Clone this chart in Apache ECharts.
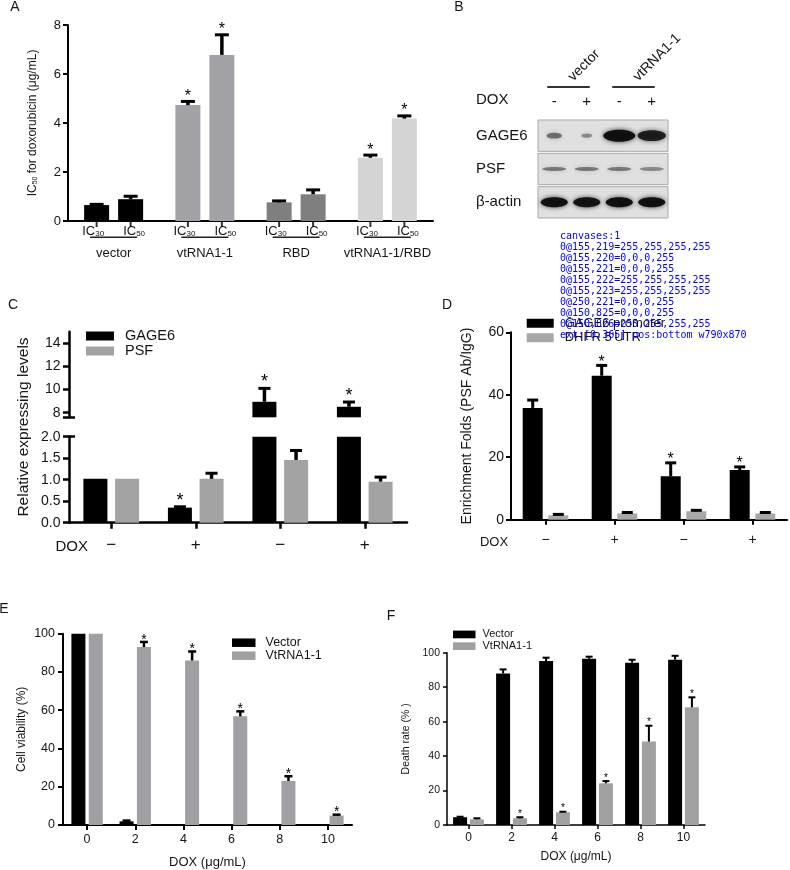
<!DOCTYPE html>
<html><head><meta charset="utf-8">
<script src="https://cdn.jsdelivr.net/npm/echarts@6/dist/echarts.min.js"></script>
<style>html,body{margin:0;padding:0;background:#fff}#c{width:790px;height:870px}#dbg{position:absolute;left:560px;top:230px;font:10px monospace;color:#00f;width:230px}</style>
</head><body><div id="c"></div><div id="dbg"></div>
<script>
const FONT = '"Liberation Sans", Arial, Helvetica, sans-serif';
const T = '#151515';

// ---------- Panel A ----------
const aGroups = ['vector', 'vtRNA1-1', 'RBD', 'vtRNA1-1/RBD'];
const aIC30 = [0.65, 4.73, 0.76, 2.58];
const aIC30Err = [0.68, 4.88, 0.82, 2.69];
const aIC30Sig = [0, 1, 0, 1];
const aIC50 = [0.89, 6.78, 1.09, 4.18];
const aIC50Err = [1.01, 7.6, 1.27, 4.29];
const aIC50Sig = [0, 1, 0, 1];
const aColors = ['#000000', '#a2a2a6', '#7f7f7f', '#d4d4d4'];

// ---------- Panel B (western blot, relative band signal) ----------
const bLanes = ['-', '+', '-', '+'];
const bGroups = ['vector', 'vtRNA1-1'];
const bRows = ['GAGE6', 'PSF', 'β-actin'];
const bGAGE6 = [0.3, 0.12, 1.0, 0.85];
const bPSF = [0.45, 0.45, 0.45, 0.38];
const bActin = [0.95, 0.93, 0.97, 0.95];

// ---------- Panel C ----------
const cCats = ['−', '+', '−', '+'];
const cGAGE6 = [1.02, 0.35, 8.94, 8.51];
const cGAGE6Err = [1.02, 0.37, 10.1, 8.92];
const cGAGE6Sig = [0, 1, 1, 1];
const cPSF = [1.02, 1.02, 1.46, 0.955];
const cPSFErr = [1.02, 1.15, 1.68, 1.06];
const cHighTicks = [8, 10, 12, 14];

// ---------- Panel D ----------
const dCats = ['−', '+', '−', '+'];
const dGAGE6 = [35.8, 46.1, 13.9, 15.9];
const dGAGE6Err = [38.3, 49.4, 18.2, 16.9];
const dGAGE6Sig = [0, 1, 1, 1];
const dDHFR = [1.4, 2.0, 2.7, 2.0];
const dDHFRErr = [1.7, 2.3, 3.0, 2.3];

// ---------- Panel E ----------
const doses = ['0', '2', '4', '6', '8', '10'];
const eVector = [100, 1.9, 0, 0, 0, 0];
const eVectorErr = [100, 2.3, 0, 0, 0, 0];
const eVt = [100, 93.0, 86.0, 56.8, 23.0, 4.9];
const eVtErr = [100, 95.7, 90.7, 59.4, 25.5, 5.4];
const eVtSig = [0, 1, 1, 1, 1, 1];

// ---------- Panel F ----------
const fVector = [4.5, 88.0, 95.2, 96.5, 94.2, 95.9];
const fVectorErr = [4.8, 90.3, 97.1, 97.7, 95.9, 98.2];
const fVt = [3.3, 3.9, 7.4, 24.2, 48.4, 68.3];
const fVtErr = [3.9, 4.5, 7.7, 25.5, 57.6, 74.1];
const fVtSig = [0, 1, 1, 1, 1, 1];

function errSeries(xi, yi, vals, errs, sigs, offset, o) {
  return {
    type: 'custom', xAxisIndex: xi, yAxisIndex: yi, silent: true, z: 5, clip: false,
    data: vals.map((v, i) => [i, v, errs[i], sigs ? sigs[i] : 0]),
    renderItem: function (params, api) {
      const i = api.value(0), v = api.value(1), e = api.value(2), s = api.value(3);
      const cs = params.coordSys;
      const p0 = api.coord([i, v]);
      const p1 = api.coord([i, e]);
      if (p1[1] < cs.y - 0.5 || p0[1] > cs.y + cs.height + 0.5) return null;
      const x = p0[0] + offset;
      const ch = [];
      if (e > v) {
        ch.push({ type: 'line', shape: { x1: x, y1: p0[1], x2: x, y2: p1[1] }, style: { stroke: '#000', lineWidth: o.lw } });
        ch.push({ type: 'line', shape: { x1: x - o.cap / 2, y1: p1[1], x2: x + o.cap / 2, y2: p1[1] }, style: { stroke: '#000', lineWidth: o.capW } });
      }
      if (s) ch.push({ type: 'text', x: x, y: p1[1] - o.starGap, style: { text: '*', fontSize: o.star, fontFamily: FONT, fill: '#000', align: 'center', verticalAlign: 'middle' } });
      return { type: 'group', children: ch };
    }
  };
}
function valAxis(grid, min, max, interval, fs, margin, lw, tl, extra) {
  return Object.assign({
    type: 'value', gridIndex: grid, min: min, max: max, interval: interval,
    axisLine: { show: true, lineStyle: { color: '#000', width: lw } },
    axisTick: { show: true, length: tl, lineStyle: { color: '#000', width: lw } },
    axisLabel: { fontSize: fs, margin: margin, color: T, fontFamily: FONT },
    splitLine: { show: false }
  }, extra || {});
}
function catAxis(grid, data, fs, margin, lw, tl, extra) {
  return Object.assign({
    type: 'category', gridIndex: grid, data: data,
    axisLine: { show: true, onZero: false, lineStyle: { color: '#000', width: lw } },
    axisTick: { show: true, alignWithLabel: true, length: tl, lineStyle: { color: '#000', width: lw } },
    axisLabel: { interval: 0, fontSize: fs, margin: margin, color: T, fontFamily: FONT },
    splitLine: { show: false }
  }, extra || {});
}

const grids = [
  { left: 68, top: 25, width: 365, height: 196 },
  { left: 69, top: 331.7, width: 338, height: 85.6 },
  { left: 69, top: 436.7, width: 338, height: 86 },
  { left: 511, top: 332.3, width: 276, height: 187.4 },
  { left: 63, top: 633.7, width: 289, height: 192.3 },
  { left: 447, top: 652.7, width: 258, height: 172.3 },
  { left: 538, top: 119, width: 130, height: 100 }
];

const xAxes = [
  catAxis(0, aGroups, 13, 1, 2, 5, {
    axisTick: { show: false },
    axisLabel: {
      interval: 0, margin: 1, color: T, fontFamily: FONT,
      formatter: v => '{ic|IC}{sub|30}{sp| }{ic|IC}{sub|50}\n{g|' + v + '}',
      rich: {
        ic: { fontSize: 13, lineHeight: 16, verticalAlign: 'bottom', fontFamily: FONT, color: T },
        sub: { fontSize: 8, lineHeight: 8, verticalAlign: 'bottom', fontFamily: FONT, color: T },
        sp: { width: 19, fontSize: 13, lineHeight: 16 },
        g: { fontSize: 13, lineHeight: 30, fontFamily: FONT, color: T }
      }
    }
  }),
  { type: 'category', gridIndex: 1, data: cCats, show: false },
  catAxis(2, cCats, 17, 14, 2.5, 6, {}),
  catAxis(3, dCats, 14, 13, 2, 5, {}),
  catAxis(4, doses, 12.5, 8, 2, 5, { name: 'DOX (μg/mL)', nameLocation: 'middle', nameGap: 31, nameTextStyle: { fontSize: 13, color: T, fontFamily: FONT } }),
  catAxis(5, doses, 12, 7, 1.5, 4, { name: 'DOX (μg/mL)', nameLocation: 'middle', nameGap: 26, nameTextStyle: { fontSize: 12, color: T, fontFamily: FONT } }),
  { type: 'category', gridIndex: 6, data: bLanes, position: 'top', axisLine: { show: false }, axisTick: { show: false },
    axisLabel: { fontSize: 15, margin: 10, color: T, fontFamily: FONT } },
  { type: 'category', gridIndex: 6, data: bGroups, position: 'top', offset: 32, axisLine: { show: false }, axisTick: { show: false },
    axisLabel: { interval: 0, fontSize: 14, margin: 8, rotate: -45, color: T, fontFamily: FONT } }
];

const yAxes = [
  valAxis(0, 0, 8, 2, 13, 7, 2, 5, {
    name: '{n|IC}{s|50}{n| for doxorubicin (μg/mL)}', nameLocation: 'middle', nameGap: 29,
    nameTextStyle: { rich: { n: { fontSize: 12, lineHeight: 15, verticalAlign: 'bottom', fontFamily: FONT, color: T }, s: { fontSize: 7, lineHeight: 7, verticalAlign: 'bottom', fontFamily: FONT, color: T } } }
  }),
  valAxis(1, 7.6, 15, null, 14, 8.5, 2.5, 6, {
    interval: undefined,
    axisTick: { show: true, length: 6, lineStyle: { color: '#000', width: 2.5 }, customValues: [7.6, 8, 10, 12, 14] },
    axisLabel: { fontSize: 14, margin: 8.5, color: T, fontFamily: FONT, customValues: cHighTicks }
  }),
  valAxis(2, 0, 2, 0.5, 14, 8.5, 2.5, 6, { axisLabel: { fontSize: 14, margin: 8.5, color: T, fontFamily: FONT, formatter: v => v.toFixed(1) } }),
  valAxis(3, 0, 60, 20, 14, 7, 2, 5, { name: 'Enrichment Folds (PSF Ab/IgG)', nameLocation: 'middle', nameGap: 37, nameTextStyle: { fontSize: 14, color: T, fontFamily: FONT } }),
  valAxis(4, 0, 100, 20, 12.5, 8, 2, 5, { name: 'Cell viability (%)', nameLocation: 'middle', nameGap: 35, nameTextStyle: { fontSize: 12, color: T, fontFamily: FONT } }),
  valAxis(5, 0, 100, 20, 10.5, 7, 1.5, 4, { name: 'Death rate (% )', nameLocation: 'middle', nameGap: 35, nameTextStyle: { fontSize: 10.5, color: T, fontFamily: FONT } }),
  { type: 'category', gridIndex: 6, data: bRows, inverse: true, axisLine: { show: false }, axisTick: { show: false },
    axisLabel: { fontSize: 15, margin: 62, align: 'left', color: T, fontFamily: FONT } },
  { type: 'value', gridIndex: 1, min: 7.6, max: 15, position: 'left', axisLine: { show: false }, axisLabel: { show: false }, splitLine: { show: false },
    axisTick: { show: true, inside: true, length: 6, lineStyle: { color: '#000', width: 2.5 }, customValues: [7.6] } },
  { type: 'value', gridIndex: 2, min: 0, max: 2, position: 'left', axisLine: { show: false }, axisLabel: { show: false }, splitLine: { show: false },
    axisTick: { show: true, inside: true, length: 6, lineStyle: { color: '#000', width: 2.5 }, customValues: [2] } }
];

const S = [];
S.push({ type: 'bar', name: 'IC30', xAxisIndex: 0, yAxisIndex: 0, barWidth: 25, barGap: '36%', data: aIC30.map((v, i) => ({ value: v, itemStyle: { color: aColors[i] } })) });
S.push({ type: 'bar', name: 'IC50', xAxisIndex: 0, yAxisIndex: 0, barWidth: 25, barGap: '36%', data: aIC50.map((v, i) => ({ value: v, itemStyle: { color: aColors[i] } })) });
S.push(errSeries(0, 0, aIC30, aIC30Err, aIC30Sig, -17, { lw: 3.5, cap: 14, capW: 3, star: 16, starGap: 5 }));
S.push(errSeries(0, 0, aIC50, aIC50Err, aIC50Sig, 17, { lw: 3.5, cap: 14, capW: 3, star: 16, starGap: 5 }));
[-17, 17].forEach(off => S.push({ type: 'scatter', xAxisIndex: 0, yAxisIndex: 0, silent: true, clip: false, symbol: 'rect', symbolSize: [2, 5], symbolOffset: [off, 3.5], itemStyle: { color: '#000' }, data: aGroups.map((g, i) => [i, 0]) }));
S.push({ type: 'custom', xAxisIndex: 0, yAxisIndex: 0, silent: true, clip: false, z: 6, data: aGroups.map((g, i) => [i, 0]),
  renderItem: (p, api) => {
    const c = api.coord([api.value(0), 0]);
    return { type: 'line', shape: { x1: c[0] - 23.5, y1: c[1] + 16.3, x2: c[0] + 23.5, y2: c[1] + 16.3 }, style: { stroke: '#222', lineWidth: 1.5 } };
  } });

const cGray = '#a3a3a3';
S.push({ type: 'bar', name: 'GAGE6', xAxisIndex: 1, yAxisIndex: 1, barWidth: 24, barGap: '32%', clip: true, itemStyle: { color: '#000' }, data: cGAGE6.map(v => v >= 7.6 ? v : '-') });
S.push({ type: 'bar', name: 'PSF', xAxisIndex: 1, yAxisIndex: 1, barWidth: 24, barGap: '32%', clip: true, itemStyle: { color: cGray }, data: cPSF.map(v => v >= 7.6 ? v : '-') });
S.push({ type: 'bar', name: 'GAGE6', xAxisIndex: 2, yAxisIndex: 2, barWidth: 24, barGap: '32%', clip: true, itemStyle: { color: '#000' }, data: cGAGE6 });
S.push({ type: 'bar', name: 'PSF', xAxisIndex: 2, yAxisIndex: 2, barWidth: 24, barGap: '32%', clip: true, itemStyle: { color: cGray }, data: cPSF });
const cOpt = { lw: 3.5, cap: 12, capW: 3, star: 18, starGap: 6 };
S.push(errSeries(1, 1, cGAGE6, cGAGE6Err, cGAGE6Sig, -15.8, cOpt));
S.push(errSeries(2, 2, cGAGE6, cGAGE6Err, cGAGE6Sig, -15.8, cOpt));
S.push(errSeries(2, 2, cPSF, cPSFErr, null, 15.8, cOpt));

const dGray = '#a8a8a8';
S.push({ type: 'bar', name: 'GAGE6 promoter', xAxisIndex: 3, yAxisIndex: 3, barWidth: 20, barGap: '28%', itemStyle: { color: '#000' }, data: dGAGE6 });
S.push({ type: 'bar', name: "DHFR 5'UTR", xAxisIndex: 3, yAxisIndex: 3, barWidth: 20, barGap: '28%', itemStyle: { color: dGray }, data: dDHFR });
const dOpt = { lw: 3, cap: 11, capW: 3, star: 16, starGap: 3 };
S.push(errSeries(3, 3, dGAGE6, dGAGE6Err, dGAGE6Sig, -12.8, dOpt));
S.push(errSeries(3, 3, dDHFR, dDHFRErr, null, 12.8, dOpt));

const eGray = '#a0a0a4';
S.push({ type: 'bar', name: 'Vector', xAxisIndex: 4, yAxisIndex: 4, barWidth: 14, barGap: '24%', itemStyle: { color: '#000' }, data: eVector });
S.push({ type: 'bar', name: 'VtRNA1-1', xAxisIndex: 4, yAxisIndex: 4, barWidth: 14, barGap: '24%', itemStyle: { color: eGray }, data: eVt });
const eOpt = { lw: 2.5, cap: 8, capW: 2.5, star: 14, starGap: 2.2 };
S.push(errSeries(4, 4, eVector, eVectorErr, null, -8.7, eOpt));
S.push(errSeries(4, 4, eVt, eVtErr, eVtSig, 8.7, eOpt));

const fGray = '#a0a0a0';
S.push({ type: 'bar', name: 'Vector', xAxisIndex: 5, yAxisIndex: 5, barWidth: 14, barGap: '20%', itemStyle: { color: '#000' }, data: fVector });
S.push({ type: 'bar', name: 'VtRNA1-1', xAxisIndex: 5, yAxisIndex: 5, barWidth: 14, barGap: '20%', itemStyle: { color: fGray }, data: fVt });
const fOpt = { lw: 2, cap: 7, capW: 2, star: 10, starGap: 3.3 };
S.push(errSeries(5, 5, fVector, fVectorErr, null, -8.4, fOpt));
S.push(errSeries(5, 5, fVt, fVtErr, fVtSig, 8.4, fOpt));

S.push({ type: 'custom', xAxisIndex: 6, yAxisIndex: 6, silent: true, z: 1, data: bRows.map((r, i) => [0, i]),
  renderItem: (p, api) => {
    const cs = p.coordSys; const c = api.coord([0, api.value(1)]); const sz = api.size([1, 1]);
    return { type: 'rect', shape: { x: cs.x, y: c[1] - sz[1] / 2 + 1, width: cs.width, height: sz[1] - 2 },
      style: { fill: '#e0e0e0', stroke: '#a9a9a9', lineWidth: 1 } };
  } });
const bBands = [bGAGE6, bPSF, bActin];
const bandData = [];
bBands.forEach((row, r) => row.forEach((s, l) => bandData.push([l, r, s])));
S.push({ type: 'custom', xAxisIndex: 6, yAxisIndex: 6, silent: true, z: 2, data: bandData,
  renderItem: (p, api) => {
    const l = api.value(0), r = api.value(1), s = api.value(2);
    const c = api.coord([l, r]);
    let rx, ry, a;
    if (r === 0) { rx = 4 + 12 * s; ry = 1.6 + 4.4 * s; a = 0.3 + 0.65 * s; }
    else if (r === 1) { rx = 12; ry = 2; a = s; }
    else { rx = 13.5; ry = 5; a = s; }
    return { type: 'ellipse', shape: { cx: c[0], cy: c[1], rx: rx, ry: ry },
      style: { fill: 'rgba(12,12,12,' + a + ')', shadowBlur: 5, shadowColor: 'rgba(0,0,0,' + (a * 0.8) + ')' } };
  } });
S.push({ type: 'custom', xAxisIndex: 6, yAxisIndex: 6, silent: true, clip: false, data: bGroups.map((g, i) => [i * 2, i * 2 + 1]),
  renderItem: (p, api) => {
    const cs = p.coordSys;
    const a = api.coord([api.value(0), 0]), b = api.coord([api.value(1), 0]);
    const y = cs.y - 32;
    return { type: 'line', shape: { x1: a[0] - 7, y1: y, x2: b[0] + 3, y2: y }, style: { stroke: '#333', lineWidth: 2 } };
  } });

function legend(names, left, top, iw, ih, fs, lh, pad) {
  return { data: names, left: left, top: top, orient: 'vertical', padding: 0, itemGap: 0, icon: 'rect', itemWidth: iw, itemHeight: ih,
    selectedMode: false, textStyle: { fontSize: fs, lineHeight: lh, color: T, fontFamily: FONT, padding: [0, 0, 0, pad] } };
}
function txt(t, x, y, fs, extra) {
  return Object.assign({ type: 'text', x: x, y: y, style: { text: t, fontSize: fs, fontFamily: FONT, fill: T, align: 'center', verticalAlign: 'middle' } }, extra || {});
}

const option = {
  animation: false,
  backgroundColor: '#fff',
  grid: grids, xAxis: xAxes, yAxis: yAxes,
  legend: [
    legend(['GAGE6', 'PSF'], 86, 328.5, 28, 9, 14.5, 14, 6),
    legend(['GAGE6 promoter', "DHFR 5'UTR"], 526.7, 316, 27, 9, 13, 14.5, 6),
    legend(['Vector', 'VtRNA1-1'], 232, 636.2, 23.5, 8.5, 12.5, 12.5, 5),
    legend(['Vector', 'VtRNA1-1'], 453, 628.6, 22.5, 7.7, 11, 11.7, 2)
  ],
  graphic: [
    txt('A', 15, 7, 14), txt('B', 459, 7, 14), txt('C', 13, 305, 14), txt('D', 447, 305, 14), txt('E', 4, 609, 14), txt('F', 391, 616, 14),
    txt('Relative expressing levels', 23.3, 427, 15.5, { rotation: Math.PI / 2 }),
    { type: 'text', x: 476, y: 100, style: { text: 'DOX', fontSize: 15, fontFamily: FONT, fill: T, align: 'left', verticalAlign: 'middle' } },
    txt('DOX', 71.7, 546.7, 15),
    txt('DOX', 494, 542.3, 13)
  ],
  series: S
};
const chart = echarts.init(document.getElementById('c'), null, { renderer: 'canvas', width: 790, height: 870 });
chart.setOption(option);
setTimeout(() => {
  const cv = document.querySelectorAll('#c canvas');
  const out = ['canvases:' + cv.length];
  cv.forEach((c, k) => {
    const ctx = c.getContext('2d');
    [[155, 219], [155, 220], [155, 221], [155, 222], [155, 223], [250, 221], [150, 825], [150, 826]].forEach(pt => {
      const d = ctx.getImageData(pt[0], pt[1], 1, 1).data;
      out.push(k + '@' + pt.join(',') + '=' + d[0] + ',' + d[1] + ',' + d[2] + ',' + d[3]);
    });
  });
  const ax = chart.getModel().getComponent('xAxis', 0).axis;
  out.push('ext:' + JSON.stringify(ax.getExtent()) + ' pos:' + ax.position + ' w' + c_width());
  document.getElementById('dbg').innerHTML = out.join('<br>');
}, 50);
function c_width() { return document.querySelector('#c canvas').width + 'x' + document.querySelector('#c canvas').height; }
</script></body></html>
